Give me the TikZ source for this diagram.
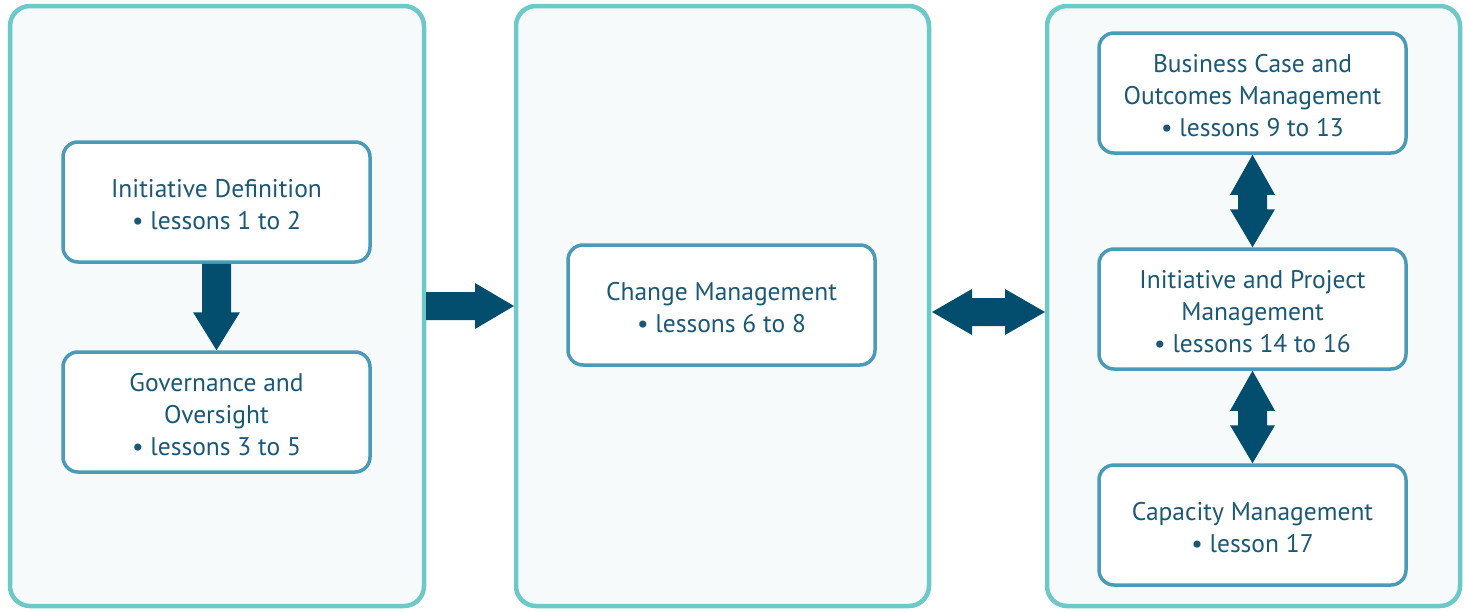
\documentclass[tikz,border=0pt]{standalone}
\usepackage{fontspec}
\setmainfont{PT Sans}
\usetikzlibrary{calc}
\definecolor{panelline}{HTML}{6DC8C8}
\definecolor{panelfill}{HTML}{F6FAFB}
\definecolor{boxline}{HTML}{4B9AB8}
\definecolor{arrowc}{HTML}{034E6E}
\definecolor{textc}{HTML}{1B5876}
\newcommand{\boxtext}[1]{\raisebox{-3pt}[\height][\depth]{\parbox{300pt}{\centering #1}}}
\tikzset{
  panel/.style={draw=panelline, line width=4.5pt, fill=panelfill, rounded corners=20pt},
  lbox/.style={draw=boxline, line width=3.5pt, fill=white, rounded corners=15pt,
    minimum width=307pt, minimum height=120pt, inner sep=0pt, align=center,
    text=textc, font=\fontsize{25.5}{32}\selectfont},
  arr/.style={fill=arrowc, draw=none}
}
\begin{document}
\begin{tikzpicture}[x=1pt,y=-1pt]
\useasboundingbox (0,0) rectangle (1468,611);
% panels
\draw[panel] (10,6) rectangle (424,606);
\draw[panel] (516,6) rectangle (929,606);
\draw[panel] (1047,6) rectangle (1460,606);
\coordinate (pl) at (424,306);
\coordinate (pm) at (516,306);
\coordinate (pmr) at (929,312);
\coordinate (pr) at (1047,312);
% boxes
\node[lbox] (d1) at (216.5,202) {\boxtext{Initiative Definition\\\textbullet\ lessons 1 to 2}};
\node[lbox] (d2) at (216.5,412) {\boxtext{Governance and\\Oversight\\\textbullet\ lessons 3 to 5}};
\node[lbox] (cm) at (721.5,305) {\boxtext{Change Management\\\textbullet\ lessons 6 to 8}};
\node[lbox] (bc) at (1252.5,93) {\boxtext{Business Case and\\Outcomes Management\\\textbullet\ lessons 9 to 13}};
\node[lbox] (ip) at (1252.5,309) {\boxtext{Initiative and Project\\Management\\\textbullet\ lessons 14 to 16}};
\node[lbox] (ca) at (1252.5,525) {\boxtext{Capacity Management\\\textbullet\ lesson 17}};
% down arrow
\fill[arr] ($(d1.south)+(-14.5,0)$) -- ($(d1.south)+(14.5,0)$) -- ($(d2.north)+(14.5,-38)$)
  -- ($(d2.north)+(23.5,-38)$) -- (d2.north) -- ($(d2.north)+(-23.5,-38)$)
  -- ($(d2.north)+(-14.5,-38)$) -- cycle;
% right arrow
\fill[arr] ($(pl)+(2,-14)$) -- ($(pm)+(-41,-14)$) -- ($(pm)+(-41,-23)$) -- ($(pm)+(-2,0)$)
  -- ($(pm)+(-41,23)$) -- ($(pm)+(-41,14)$) -- ($(pl)+(2,14)$) -- cycle;
% horizontal double arrow
\fill[arr] ($(pmr)+(3,0)$) -- ($(pmr)+(43,-23)$) -- ($(pmr)+(43,-14)$) -- ($(pr)+(-42,-14)$)
  -- ($(pr)+(-42,-23)$) -- ($(pr)+(-2,0)$) -- ($(pr)+(-42,23)$) -- ($(pr)+(-42,14)$)
  -- ($(pmr)+(43,14)$) -- ($(pmr)+(43,23)$) -- cycle;
% vertical double arrows
\foreach \a/\b in {bc/ip, ip/ca}{
\fill[arr] (\a.south) -- ($(\a.south)+(22.5,40)$) -- ($(\a.south)+(14.5,40)$)
  -- ($(\b.north)+(14.5,-38)$) -- ($(\b.north)+(22.5,-38)$) -- (\b.north)
  -- ($(\b.north)+(-22.5,-38)$) -- ($(\b.north)+(-14.5,-38)$)
  -- ($(\a.south)+(-14.5,40)$) -- ($(\a.south)+(-22.5,40)$) -- cycle;
}
\end{tikzpicture}
\end{document}
